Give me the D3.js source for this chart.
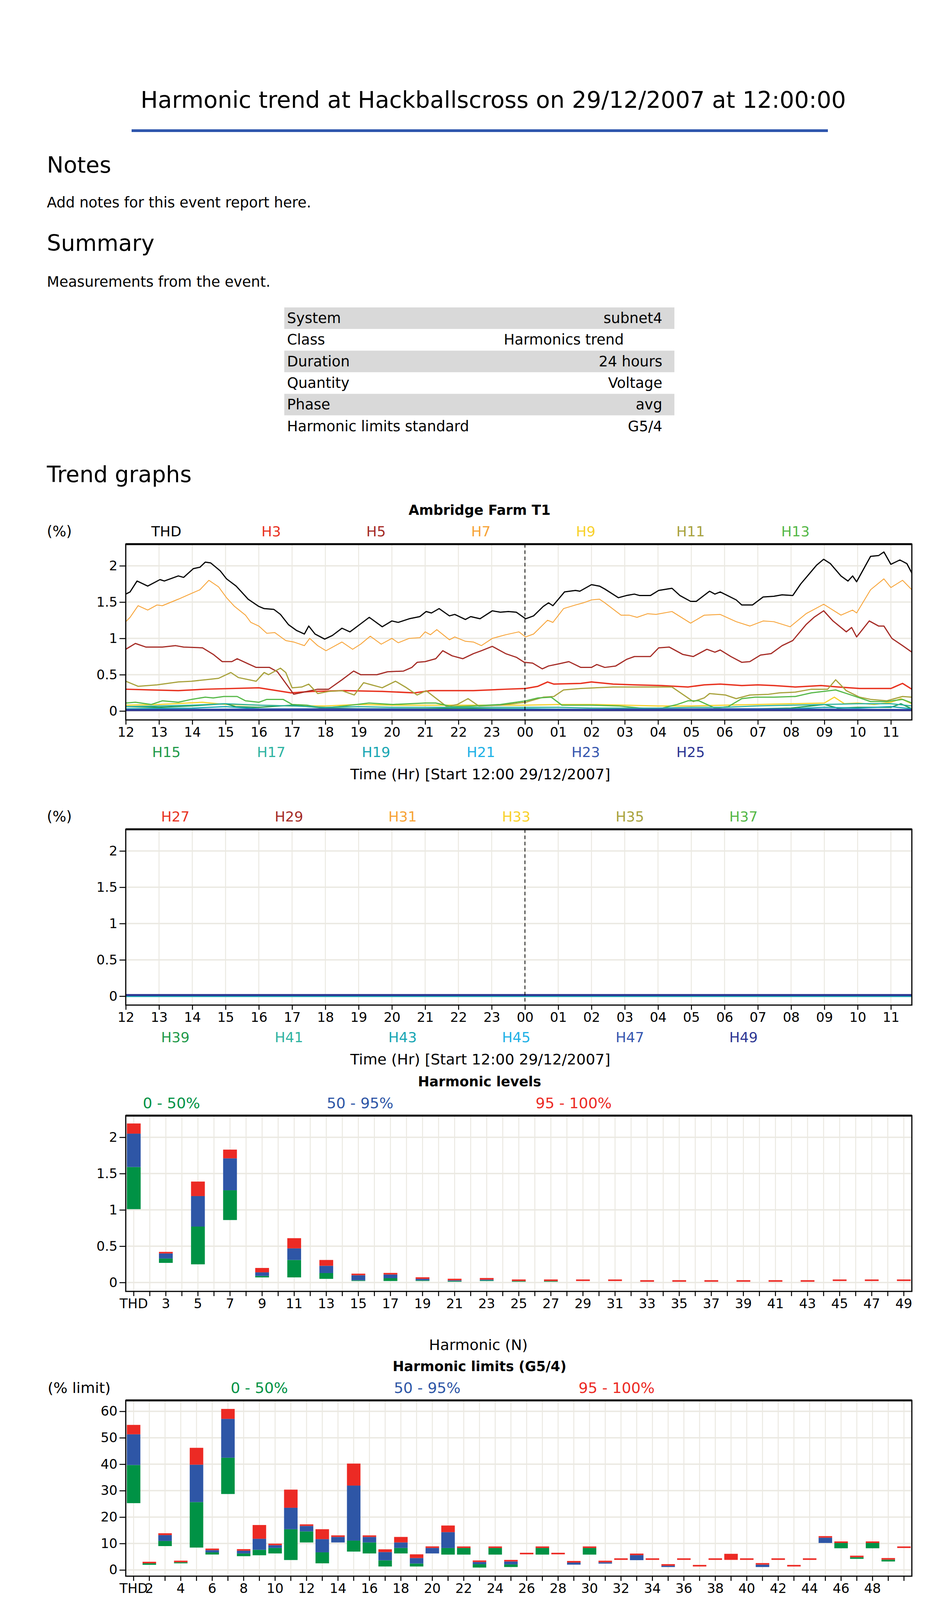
<!DOCTYPE html>
<html>
<head>
<meta charset="utf-8">
<title>Harmonic trend at Hackballscross</title>
<script src="https://cdn.jsdelivr.net/npm/d3@7"></script>
<style>
  body { margin: 0; background: #fff; }
  svg { display: block; font-family: "DejaVu Sans", Verdana, sans-serif; }
</style>
</head>
<body>
<div id="report"></div>
<script>
// ---------- data ----------
var hourLabels = ["12","13","14","15","16","17","18","19","20","21","22","23",
                  "00","01","02","03","04","05","06","07","08","09","10","11"];
var pctTicks = [0, 0.5, 1, 1.5, 2];
var limitTicks = [0, 10, 20, 30, 40, 50, 60];

// trend series: [hours since 12:00, %]
var thdTrend = [[0,1.61],[0.13,1.64],[0.34,1.79],[0.66,1.72],[1.03,1.81],[1.16,1.79],[1.58,1.86],[1.74,1.84],[2.03,1.96],[2.23,1.98],[2.39,2.05],[2.55,2.04],[2.84,1.93],[3.03,1.82],[3.32,1.72],[3.68,1.54],[4.0,1.44],[4.16,1.41],[4.45,1.40],[4.65,1.33],[4.89,1.19],[5.13,1.11],[5.37,1.06],[5.5,1.17],[5.69,1.06],[5.98,0.99],[6.21,1.04],[6.5,1.14],[6.74,1.09],[7.06,1.20],[7.32,1.29],[7.71,1.16],[8.0,1.24],[8.19,1.22],[8.52,1.27],[8.84,1.30],[9.03,1.37],[9.19,1.35],[9.42,1.41],[9.73,1.31],[9.89,1.33],[10.21,1.26],[10.37,1.30],[10.65,1.27],[11.02,1.38],[11.26,1.36],[11.5,1.37],[11.74,1.36],[12.02,1.27],[12.26,1.31],[12.55,1.44],[12.71,1.49],[12.84,1.45],[13.19,1.64],[13.52,1.66],[13.65,1.65],[14.0,1.74],[14.24,1.72],[14.4,1.68],[14.81,1.56],[15.05,1.59],[15.29,1.61],[15.45,1.59],[15.77,1.59],[16.02,1.66],[16.42,1.69],[16.66,1.59],[16.98,1.51],[17.15,1.51],[17.55,1.65],[17.71,1.61],[17.87,1.64],[18.35,1.53],[18.52,1.46],[18.84,1.46],[19.16,1.57],[19.48,1.58],[19.73,1.60],[20.05,1.59],[20.29,1.75],[20.53,1.88],[20.77,2.01],[20.98,2.09],[21.18,2.03],[21.5,1.86],[21.71,1.79],[21.85,1.86],[21.97,1.78],[22.39,2.13],[22.63,2.14],[22.79,2.19],[23.0,2.02],[23.27,2.08],[23.48,2.03],[23.63,1.90]];
var h3Trend = [[0,0.30],[0.77,0.29],[1.58,0.28],[2.39,0.30],[4.0,0.32],[4.97,0.25],[5.61,0.27],[6.58,0.28],[7.71,0.27],[8.68,0.25],[9.16,0.28],[10.45,0.28],[11.42,0.30],[12.02,0.31],[12.39,0.34],[12.68,0.40],[12.87,0.37],[13.68,0.38],[14.0,0.40],[14.65,0.37],[15.29,0.36],[16.1,0.35],[16.9,0.33],[17.39,0.36],[17.87,0.37],[18.52,0.35],[19.0,0.36],[19.48,0.35],[20.13,0.33],[20.9,0.35],[21.42,0.33],[22.06,0.31],[23.0,0.31],[23.35,0.38],[23.63,0.30]];
var h5Trend = [[0,0.85],[0.29,0.93],[0.61,0.88],[1.1,0.88],[1.5,0.90],[1.74,0.88],[2.31,0.87],[2.63,0.78],[2.9,0.68],[3.19,0.68],[3.35,0.72],[3.68,0.65],[3.92,0.60],[4.32,0.60],[4.56,0.54],[5.05,0.23],[5.45,0.27],[5.77,0.30],[6.1,0.30],[6.5,0.43],[6.85,0.55],[7.06,0.50],[7.55,0.50],[7.87,0.54],[8.35,0.55],[8.6,0.60],[8.76,0.67],[9.0,0.68],[9.32,0.72],[9.53,0.83],[9.81,0.76],[10.13,0.72],[10.45,0.79],[10.69,0.83],[11.02,0.89],[11.42,0.79],[11.74,0.74],[11.98,0.67],[12.23,0.66],[12.52,0.58],[12.71,0.62],[13.03,0.65],[13.32,0.68],[13.68,0.60],[14.0,0.60],[14.16,0.64],[14.4,0.60],[14.73,0.62],[15.05,0.71],[15.29,0.75],[15.77,0.75],[16.02,0.87],[16.34,0.88],[16.74,0.78],[17.06,0.75],[17.47,0.85],[17.71,0.81],[17.87,0.84],[18.19,0.75],[18.52,0.67],[18.76,0.68],[19.08,0.77],[19.4,0.79],[19.73,0.90],[20.05,0.97],[20.45,1.19],[20.69,1.29],[20.98,1.38],[21.26,1.24],[21.66,1.09],[21.82,1.15],[21.97,1.02],[22.35,1.24],[22.63,1.17],[22.79,1.17],[23.03,1.00],[23.35,0.90],[23.63,0.81]];
var h7Trend = [[0,1.23],[0.13,1.29],[0.37,1.45],[0.66,1.39],[0.94,1.46],[1.1,1.45],[1.58,1.54],[1.98,1.62],[2.23,1.67],[2.5,1.80],[2.79,1.71],[3.03,1.56],[3.27,1.44],[3.6,1.32],[3.76,1.22],[4.0,1.17],[4.24,1.07],[4.48,1.08],[4.81,0.97],[5.05,0.95],[5.37,0.90],[5.53,1.00],[5.77,0.90],[6.02,0.83],[6.5,0.95],[6.82,0.85],[7.06,0.92],[7.35,1.03],[7.68,0.92],[8.0,1.00],[8.19,0.94],[8.52,1.00],[8.84,1.01],[9.0,1.09],[9.16,1.05],[9.35,1.12],[9.73,0.98],[9.89,1.02],[10.21,0.96],[10.45,0.95],[10.69,0.90],[11.02,1.00],[11.42,1.05],[11.82,1.09],[12.02,1.02],[12.26,1.06],[12.68,1.25],[12.84,1.22],[13.16,1.41],[13.52,1.46],[13.76,1.49],[14.0,1.53],[14.24,1.54],[14.4,1.49],[14.89,1.32],[15.13,1.32],[15.37,1.29],[15.69,1.34],[15.94,1.33],[16.42,1.37],[16.98,1.21],[17.39,1.32],[17.87,1.33],[18.35,1.23],[18.76,1.17],[19.16,1.24],[19.48,1.23],[19.97,1.16],[20.45,1.34],[20.98,1.47],[21.5,1.32],[21.85,1.39],[21.97,1.35],[22.39,1.67],[22.79,1.82],[23.0,1.70],[23.35,1.80],[23.63,1.67]];
var h9Trend = [[0,0.08],[1,0.09],[2.3,0.12],[3,0.09],[4,0.08],[5,0.07],[6,0.07],[7,0.09],[8,0.08],[9,0.08],[10,0.08],[11,0.08],[12,0.08],[13,0.09],[14,0.09],[15,0.08],[16,0.07],[17,0.07],[18,0.08],[19,0.09],[20,0.10],[21,0.11],[21.3,0.19],[21.6,0.10],[22,0.11],[22.5,0.09],[23,0.12],[23.3,0.17],[23.63,0.10]];
var h11Trend = [[0,0.41],[0.37,0.34],[0.94,0.36],[1.26,0.38],[1.58,0.40],[1.98,0.41],[2.39,0.43],[2.79,0.45],[3.16,0.53],[3.39,0.46],[3.92,0.41],[4.16,0.53],[4.29,0.50],[4.65,0.59],[4.81,0.53],[5.0,0.32],[5.29,0.33],[5.5,0.37],[5.77,0.24],[6.1,0.27],[6.5,0.28],[6.87,0.22],[7.15,0.39],[7.39,0.36],[7.71,0.32],[8.11,0.41],[8.44,0.32],[8.76,0.22],[9.03,0.28],[9.65,0.06],[9.97,0.09],[10.29,0.17],[10.61,0.07],[11.26,0.08],[12.02,0.12],[12.55,0.19],[12.87,0.20],[13.16,0.29],[13.68,0.31],[14.65,0.33],[15.29,0.33],[15.94,0.33],[16.42,0.33],[17.06,0.13],[17.39,0.18],[17.55,0.24],[18.03,0.22],[18.35,0.17],[18.76,0.22],[19.32,0.23],[19.65,0.25],[20.13,0.26],[20.61,0.30],[21.1,0.30],[21.34,0.43],[21.66,0.28],[22.06,0.19],[22.39,0.16],[22.87,0.14],[23.35,0.20],[23.63,0.19]];
var h13Trend = [[0,0.11],[0.29,0.12],[0.77,0.09],[1.1,0.14],[1.58,0.12],[1.98,0.16],[2.39,0.19],[2.63,0.18],[2.95,0.20],[3.35,0.20],[3.6,0.14],[4.0,0.12],[4.24,0.16],[4.73,0.16],[5.0,0.09],[5.45,0.08],[5.94,0.04],[6.58,0.07],[7.31,0.11],[8.03,0.09],[9.0,0.11],[9.32,0.11],[9.81,0.06],[10.45,0.07],[11.26,0.09],[12.02,0.14],[12.39,0.18],[12.79,0.19],[13.11,0.08],[14.0,0.08],[14.81,0.07],[15.94,0.02],[16.58,0.09],[16.9,0.14],[17.23,0.14],[17.71,0.04],[18.11,0.06],[18.52,0.17],[18.92,0.19],[19.48,0.19],[20.13,0.20],[20.61,0.25],[21.34,0.29],[21.74,0.23],[22.06,0.18],[22.39,0.13],[22.87,0.13],[23.35,0.16],[23.63,0.11]];
var h15Trend = [[0,0.06],[1,0.05],[2,0.07],[3,0.10],[3.3,0.06],[4,0.05],[5,0.08],[6,0.04],[7,0.03],[8,0.03],[9,0.03],[10,0.04],[11,0.03],[12,0.03],[13,0.02],[14,0.02],[15,0.02],[16,0.02],[17,0.02],[18,0.02],[19,0.03],[20,0.04],[21,0.09],[21.4,0.04],[22,0.05],[23,0.05],[23.3,0.10],[23.63,0.03]];
var h17Trend = [[0,0.06],[1,0.07],[2,0.08],[3,0.10],[4,0.08],[5,0.07],[6,0.05],[7,0.06],[8,0.05],[9,0.05],[10,0.05],[11,0.05],[12,0.05],[13,0.05],[14,0.04],[15,0.04],[16,0.04],[17,0.05],[18,0.05],[19,0.07],[20,0.08],[21,0.09],[22,0.10],[23,0.10],[23.63,0.07]];
var h19Trend = [[0,0.03],[2,0.04],[3,0.06],[4,0.03],[6,0.02],[8,0.03],[10,0.02],[12,0.03],[14,0.02],[16,0.02],[18,0.03],[20,0.03],[21,0.05],[22,0.04],[23,0.06],[23.63,0.03]];
var h21Trend = [[0,0.02],[4,0.02],[8,0.01],[12,0.02],[16,0.01],[20,0.02],[23.63,0.02]];
var h23Trend = [[0,0.02],[6,0.03],[12,0.02],[18,0.03],[23.63,0.02]];
var h25Trend = [[0,0.01],[12,0.01],[23.63,0.01]];
var h27Trend = [[0,0.02],[23.63,0.02]];
var h29Trend = [[0,0.02],[23.63,0.02]];
var h31Trend = [[0,0.02],[23.63,0.02]];
var h33Trend = [[0,0.01],[23.63,0.01]];
var h35Trend = [[0,0.01],[23.63,0.01]];
var h37Trend = [[0,0.01],[23.63,0.01]];
var h39Trend = [[0,0.01],[23.63,0.01]];
var h41Trend = [[0,0.0],[23.63,0.0]];
var h43Trend = [[0,0.0],[23.63,0.0]];
var h45Trend = [[0,0.01],[23.63,0.01]];
var h47Trend = [[0,0.015],[23.63,0.015]];
var h49Trend = [[0,0.015],[23.63,0.015]];

var trend1TopNames = ["THD","H3","H5","H7","H9","H11","H13"];
var trend1BottomNames = ["H15","H17","H19","H21","H23","H25"];
var trend2TopNames = ["H27","H29","H31","H33","H35","H37"];
var trend2BottomNames = ["H39","H41","H43","H45","H47","H49"];

var summaryRows = [["System","subnet4"],["Class","Harmonics trend"],["Duration","24 hours"],
                   ["Quantity","Voltage"],["Phase","avg"],["Harmonic limits standard","G5/4"]];

var measHead = ["N","Min","50%","95%","Max","Min","50%","95%","Max"];
var measRows = [
  ["1","10.972","11.074","11.147","11.197","99.75","100.67","101.34","101.79"],
  ["3","0.030","0.036","0.043","0.046","0.27","0.33","0.40","0.42"],
  ["5","0.028","0.085","0.131","0.152","0.25","0.77","1.19","1.39"],
  ["7","0.095","0.140","0.189","0.201","0.86","1.27","1.71","1.83"],
  ["9","0.007","0.010","0.016","0.022","0.07","0.09","0.14","0.20"],
  ["11","0.008","0.034","0.052","0.067","0.07","0.31","0.47","0.61"],
  ["13","0.005","0.015","0.026","0.034","0.05","0.13","0.23","0.31"],
  ["15","0.002","0.004","0.011","0.013","0.02","0.03","0.10","0.12"],
  ["17","0.002","0.006","0.012","0.014","0.02","0.06","0.11","0.12"],
  ["19","0.002","0.003","0.006","0.008","0.02","0.03","0.05","0.07"],
  ["21","0.001","0.002","0.003","0.004","0.01","0.02","0.03","0.03"],
  ["23","0.002","0.003","0.004","0.005","0.02","0.03","0.04","0.04"],
  ["25","0.001","0.002","0.003","0.003","0.01","0.02","0.02","0.02"],
  ["27","0.001","0.002","0.002","0.002","0.01","0.02","0.02","0.02"],
  ["29","0.002","0.002","0.002","0.002","0.02","0.02","0.02","0.02"],
  ["31","0.002","0.002","0.002","0.002","0.02","0.02","0.02","0.02"],
  ["33","0.001","0.001","0.001","0.001","0.01","0.01","0.01","0.01"],
  ["35","0.001","0.001","0.001","0.001","0.01","0.01","0.01","0.01"],
  ["37","0.001","0.001","0.001","0.001","0.01","0.01","0.01","0.01"],
  ["39","0.001","0.001","0.001","0.001","0.01","0.01","0.01","0.01"],
  ["41","0.001","0.001","0.001","0.001","0.01","0.01","0.01","0.01"],
  ["43","0.001","0.001","0.001","0.001","0.01","0.01","0.01","0.01"],
  ["45","0.002","0.002","0.003","0.003","0.02","0.02","0.02","0.02"],
  ["47","0.002","0.003","0.003","0.003","0.02","0.02","0.02","0.02"],
  ["49","0.002","0.002","0.002","0.002","0.02","0.02","0.02","0.02"],
  ["THD","","","","","1.01","1.59","2.05","2.19"]
];

var limitHead = ["N","Min","50%","95%","Max","Limit%","Min","50%","95%","Max","Pass"];
var limitRows = [
  ["2","0.03","0.04","0.04","0.04","1.50","1.94","2.50","2.50","2.77","Yes"],
  ["3","0.27","0.33","0.40","0.42","3.00","9.02","10.96","13.18","13.87","Yes"],
  ["4","0.02","0.03","0.03","0.03","1.00","2.50","2.91","2.91","3.33","Yes"],
  ["5","0.25","0.77","1.19","1.39","3.00","8.46","25.66","39.81","46.19","Yes"],
  ["6","0.03","0.03","0.04","0.04","0.50","5.83","6.66","7.49","7.49","Yes"],
  ["7","0.86","1.27","1.71","1.83","3.00","28.72","42.45","57.15","60.90","Yes"],
  ["8","0.02","0.02","0.03","0.03","0.40","5.20","6.24","7.28","7.28","Yes"],
  ["9","0.07","0.09","0.14","0.20","1.20","5.55","7.63","11.79","16.99","Yes"],
  ["10","0.02","0.03","0.04","0.04","0.40","6.24","8.32","9.36","9.36","Yes"],
  ["11","0.07","0.31","0.47","0.61","2.00","3.75","15.40","23.51","30.38","Yes"],
  ["12","0.02","0.03","0.03","0.03","0.20","10.40","14.57","16.65","16.65","Yes"],
  ["13","0.05","0.13","0.23","0.31","2.00","2.50","6.66","11.65","15.40","Yes"],
  ["14","0.02","0.02","0.02","0.02","0.20","10.40","10.40","12.48","12.48","Yes"],
  ["15","0.02","0.03","0.10","0.12","0.30","6.94","11.10","31.91","40.23","Yes"],
  ["16","0.01","0.02","0.02","0.02","0.20","6.24","10.40","12.48","12.48","Yes"],
  ["17","0.02","0.06","0.11","0.12","1.60","1.30","3.64","6.76","7.80","Yes"],
  ["18","0.01","0.02","0.02","0.02","0.20","6.24","8.32","10.40","12.48","Yes"],
  ["19","0.02","0.03","0.05","0.07","1.20","1.30","2.43","4.51","5.90","Yes"],
  ["20","0.01","0.01","0.02","0.02","0.20","6.24","6.24","8.32","8.32","Yes"],
  ["THD","1.01","1.59","2.05","2.19","4.00","25.26","39.69","51.31","54.86","Yes"]
];

// % of limit for harmonics not listed in the table
var limitChartExtra = [
  ["21",5.8,8.3,14.3,16.8],["22",5.8,8.3,8.3,8.3],["23",0.9,2.2,3.0,3.3],["24",5.8,8.3,8.3,8.3],
  ["25",1.1,2.1,3.2,3.7],["26",5.9,5.9,5.9,5.9],["27",5.8,8.3,8.3,8.3],["28",5.9,5.9,5.9,5.9],
  ["29",2.0,2.0,2.8,3.2],["30",5.8,8.3,8.3,8.3],["31",2.4,2.4,2.9,3.2],["32",3.8,3.8,3.8,3.8],
  ["33",3.7,3.7,5.6,6.1],["34",3.8,3.8,3.8,3.8],["35",1.1,1.1,1.6,2.0],["36",3.8,3.8,3.8,3.8],
  ["37",1.3,1.3,1.3,1.3],["38",3.8,3.8,3.8,3.8],["39",3.8,3.8,3.8,6.1],["40",3.8,3.8,3.8,3.8],
  ["41",1.1,1.1,2.0,2.4],["42",3.8,3.8,3.8,3.8],["43",1.3,1.3,1.3,1.3],["44",3.8,3.8,3.8,3.8],
  ["45",10.2,10.2,12.2,12.6],["46",8.2,10.2,10.2,10.4],["47",4.2,4.8,4.8,5.2],["48",8.2,10.2,10.2,10.4],
  ["49",3.2,3.9,3.9,4.3],["50",8.3,8.3,8.3,8.3]
];

var levelCats = ["THD","2","3","4","5","6","7","8","9","10","11","12","13","14","15","16","17","18","19","20",
  "21","22","23","24","25","26","27","28","29","30","31","32","33","34","35","36","37","38","39","40",
  "41","42","43","44","45","46","47","48","49"];
var limitCats = levelCats.concat(["50"]);
var levelLabels = ["THD","3","5","7","9","11","13","15","17","19","21","23","25","27","29","31","33","35","37","39","41","43","45","47","49"];
var limitLabels = ["THD","2","4","6","8","10","12","14","16","18","20","22","24","26","28","30","32","34","36","38","40","42","44","46","48"];
var bandNames = ["0 - 50%","50 - 95%","95 - 100%"];

// ---------- styles ----------
var seriesColor = {
  THD:"#000000", H3:"#e8321f", H5:"#a52b25", H7:"#f7a336", H9:"#f8d12a", H11:"#a8a23c",
  H13:"#55b847", H15:"#1f9a4a", H17:"#2fb3a1", H19:"#18a6b3", H21:"#1eb1e6", H23:"#3656ae", H25:"#2c3592",
  H27:"#e8321f", H29:"#a52b25", H31:"#f7a336", H33:"#f8d12a", H35:"#a8a23c", H37:"#55b847",
  H39:"#1f9a4a", H41:"#2fb3a1", H43:"#18a6b3", H45:"#1eb1e6", H47:"#3656ae", H49:"#2c3592"
};
var bandColor = ["#009245", "#2e56a6", "#ec2a24"];
var gridColor = "#ebe9e2";
var plotL = 322, plotR = 2335, plotH = 450;
var hoursSpan = 23.63;

var svg = d3.select("#report").append("svg")
  .attr("width", 2402).attr("height", 7885);
svg.append("rect").attr("width", 2402).attr("height", 7885).attr("fill", "#fff");

function label(x, y, s, size, opt) {
  opt = opt || {};
  return svg.append("text")
    .attr("x", x).attr("y", y)
    .attr("font-size", size)
    .attr("font-weight", opt.bold ? "bold" : null)
    .attr("text-anchor", opt.anchor || "start")
    .attr("fill", opt.color || "#000")
    .text(s);
}

function styleAxis(g, size) {
  g.select(".domain").remove();
  g.attr("font-size", null).attr("font-family", null);
  g.selectAll(".tick line").attr("stroke", "#000").attr("stroke-width", 2.5);
  g.selectAll(".tick text").attr("fill", "#000").attr("font-size", size);
}

function frame(g, top) {
  g.append("rect").attr("x", plotL).attr("y", top)
    .attr("width", plotR - plotL).attr("height", plotH)
    .attr("fill", "none").attr("stroke", "#000").attr("stroke-width", 3);
  g.append("line").attr("x1", plotL).attr("x2", plotR).attr("y1", top).attr("y2", top)
    .attr("stroke", "#000").attr("stroke-width", 5);
}

// ---------- header ----------
label(360, 276, "Harmonic trend at Hackballscross on 29/12/2007 at 12:00:00", 59);
svg.append("rect").attr("x", 337).attr("y", 331).attr("width", 1783).attr("height", 7).attr("fill", "#2f56ad");
label(120, 442, "Notes", 57);
label(120, 531, "Add notes for this event report here.", 37);
label(120, 642, "Summary", 57);
label(120, 734, "Measurements from the event.", 37);

// summary table
var sumTop = 787, sumRowH = 55.3;
svg.append("g").selectAll("rect").data(summaryRows).join("rect")
  .attr("x", 728).attr("y", (d, i) => sumTop + i * sumRowH)
  .attr("width", 999).attr("height", sumRowH)
  .attr("fill", (d, i) => i % 2 === 0 ? "#d9d9d9" : "#fff");
svg.append("g").selectAll("text").data(summaryRows).join("text")
  .attr("x", 735).attr("y", (d, i) => sumTop + i * sumRowH + 40)
  .attr("font-size", 37).text(d => d[0]);
svg.append("g").selectAll("text").data(summaryRows).join("text")
  .attr("x", (d, i) => i === 1 ? 1290 : 1696)
  .attr("text-anchor", (d, i) => i === 1 ? "start" : "end")
  .attr("y", (d, i) => sumTop + i * sumRowH + 40)
  .attr("font-size", 37).text(d => d[1]);

label(120, 1234, "Trend graphs", 57);

// ---------- trend charts ----------
function trendChart(top, series, topNames, bottomNames, legX0, legStep, title) {
  var bottom = top + plotH;
  var x = d3.scaleLinear().domain([0, hoursSpan]).range([plotL, plotR]);
  var y = d3.scaleLinear().domain([-0.123, 2.298]).range([bottom, top]);
  var g = svg.append("g");

  if (title) g.append("text").attr("x", 1228).attr("y", top - 75).attr("text-anchor", "middle")
    .attr("font-size", 35).attr("font-weight", "bold").text(title);
  g.append("text").attr("x", 120).attr("y", top - 20).attr("font-size", 37).text("(%)");

  g.append("g").selectAll("text").data(topNames).join("text")
    .attr("x", (d, i) => legX0 + i * legStep).attr("y", top - 20)
    .attr("text-anchor", "middle").attr("font-size", 36)
    .attr("fill", d => seriesColor[d]).text(d => d);
  g.append("g").selectAll("text").data(bottomNames).join("text")
    .attr("x", (d, i) => legX0 + i * legStep).attr("y", bottom + 95)
    .attr("text-anchor", "middle").attr("font-size", 36)
    .attr("fill", d => seriesColor[d]).text(d => d);
  g.append("text").attr("x", 1230).attr("y", bottom + 152).attr("text-anchor", "middle")
    .attr("font-size", 38).text("Time (Hr) [Start 12:00 29/12/2007]");

  // grid
  g.append("g").selectAll("line").data(d3.range(1, hourLabels.length)).join("line")
    .attr("x1", d => x(d)).attr("x2", d => x(d)).attr("y1", top).attr("y2", bottom)
    .attr("stroke", gridColor).attr("stroke-width", 2.5);
  g.append("g").selectAll("line").data(pctTicks).join("line")
    .attr("x1", plotL).attr("x2", plotR).attr("y1", d => y(d)).attr("y2", d => y(d))
    .attr("stroke", gridColor).attr("stroke-width", 3.5);

  var line = d3.line().x(d => x(d[0])).y(d => y(d[1]));
  g.append("g").selectAll("path").data(series).join("path")
    .attr("d", d => line(d.values))
    .attr("fill", "none")
    .attr("stroke", d => seriesColor[d.name])
    .attr("stroke-width", d => d.width)
    .attr("stroke-linejoin", "round");

  // midnight marker
  g.append("line").attr("x1", x(12)).attr("x2", x(12)).attr("y1", top).attr("y2", bottom)
    .attr("stroke", "#000").attr("stroke-width", 2).attr("stroke-dasharray", "9,7");

  frame(g, top);

  var gx = g.append("g").attr("transform", "translate(0," + bottom + ")")
    .call(d3.axisBottom(x).tickValues(d3.range(hourLabels.length))
      .tickFormat(i => hourLabels[i]).tickSize(12));
  styleAxis(gx, 34);
  gx.selectAll(".tick text").attr("y", 43).attr("dy", 0);

  var gy = g.append("g").attr("transform", "translate(" + plotL + ",0)")
    .call(d3.axisLeft(y).tickValues(pctTicks).tickFormat(d3.format("")).tickSize(16).tickPadding(5));
  styleAxis(gy, 34);
}

trendChart(1393, [
  {name:"THD", values:thdTrend, width:3},
  {name:"H3", values:h3Trend, width:3.5},
  {name:"H5", values:h5Trend, width:3},
  {name:"H7", values:h7Trend, width:2.2},
  {name:"H9", values:h9Trend, width:3},
  {name:"H11", values:h11Trend, width:3},
  {name:"H13", values:h13Trend, width:3},
  {name:"H15", values:h15Trend, width:3},
  {name:"H17", values:h17Trend, width:3},
  {name:"H19", values:h19Trend, width:3},
  {name:"H21", values:h21Trend, width:3},
  {name:"H23", values:h23Trend, width:3},
  {name:"H25", values:h25Trend, width:4.5}
], trend1TopNames, trend1BottomNames, 426, 268.5, "Ambridge Farm T1");

trendChart(2123, [
  {name:"H27", values:h27Trend, width:3},
  {name:"H29", values:h29Trend, width:3},
  {name:"H31", values:h31Trend, width:3},
  {name:"H33", values:h33Trend, width:3},
  {name:"H35", values:h35Trend, width:3},
  {name:"H37", values:h37Trend, width:3},
  {name:"H39", values:h39Trend, width:3},
  {name:"H41", values:h41Trend, width:4},
  {name:"H43", values:h43Trend, width:4},
  {name:"H45", values:h45Trend, width:3},
  {name:"H47", values:h47Trend, width:4},
  {name:"H49", values:h49Trend, width:5}
], trend2TopNames, trend2BottomNames, 449, 291, null);

// ---------- range bar charts ----------
function rangeChart(top, cats, labels, yDomain, ticks, data, title, legendX, xTitle, leftLabel) {
  var bottom = top + plotH;
  var x = d3.scaleBand().domain(cats).range([plotL, plotR]);
  var y = d3.scaleLinear().domain(yDomain).range([bottom, top]);
  var g = svg.append("g");

  g.append("text").attr("x", 1228).attr("y", top - 75).attr("text-anchor", "middle")
    .attr("font-size", 35).attr("font-weight", "bold").text(title);
  if (leftLabel) g.append("text").attr("x", 122).attr("y", top - 19).attr("font-size", 38).text(leftLabel);
  g.append("g").selectAll("text").data(bandNames).join("text")
    .attr("x", (d, i) => legendX[i]).attr("y", top - 19).attr("text-anchor", "middle")
    .attr("font-size", 38).attr("fill", (d, i) => bandColor[i]).text(d => d);
  g.append("text").attr("x", 1225).attr("y", bottom + 150).attr("text-anchor", "middle")
    .attr("font-size", 38).text(xTitle);

  var cx = d => x(d) + x.bandwidth() / 2;
  g.append("g").selectAll("line").data(cats).join("line")
    .attr("x1", cx).attr("x2", cx).attr("y1", top).attr("y2", bottom)
    .attr("stroke", gridColor).attr("stroke-width", 2.5);
  g.append("g").selectAll("line").data(ticks).join("line")
    .attr("x1", plotL).attr("x2", plotR).attr("y1", d => y(d)).attr("y2", d => y(d))
    .attr("stroke", gridColor).attr("stroke-width", 3.5);

  var bw = x.bandwidth() * 0.86;
  var segs = [];
  data.forEach(d => {
    for (var s = 0; s < 3; s++) segs.push({k: d.k, lo: d.v[s], hi: d.v[s + 1], s: s});
  });
  g.append("g").selectAll("rect").data(segs).join("rect")
    .attr("x", d => cx(d.k) - bw / 2).attr("width", bw)
    .attr("y", d => d.s === 2 ? Math.min(y(d.hi), y(d.lo) - 4) : y(d.hi))
    .attr("height", d => d.s === 2 ? Math.max(y(d.lo) - y(d.hi), 4) : Math.max(y(d.lo) - y(d.hi), 0))
    .attr("fill", d => bandColor[d.s]);

  frame(g, top);

  var gx = g.append("g").attr("transform", "translate(0," + bottom + ")")
    .call(d3.axisBottom(x).tickFormat(d => labels.indexOf(d) >= 0 ? d : "").tickSize(12));
  styleAxis(gx, 34);
  gx.selectAll(".tick text").attr("y", 43).attr("dy", 0);

  var gy = g.append("g").attr("transform", "translate(" + plotL + ",0)")
    .call(d3.axisLeft(y).tickValues(ticks).tickFormat(d3.format("")).tickSize(16).tickPadding(5));
  styleAxis(gy, 34);
}

var levelData = measRows.filter(r => r[0] !== "1")
  .map(r => ({k: r[0], v: r.slice(5, 9).map(Number)}));
levelData = [levelData[levelData.length - 1]].concat(levelData.slice(0, -1));
rangeChart(2856, levelCats, levelLabels, [-0.123, 2.298], pctTicks, levelData,
  "Harmonic levels", [439, 922, 1469], "Harmonic (N)", null);

var limitData = limitRows.map(r => ({k: r[0], v: r.slice(6, 10).map(Number)}))
  .concat(limitChartExtra.map(r => ({k: r[0], v: r.slice(1)})));
rangeChart(3585, limitCats, limitLabels, [-2.36, 64.13], limitTicks, limitData,
  "Harmonic limits (G5/4)", [664, 1094, 1579], "Harmonic(N)", "(% limit)");

svg.append("rect").attr("x", 337).attr("y", 4220).attr("width", 1783).attr("height", 4).attr("fill", "#2f56ad");

// ---------- tables ----------
function dataTable(rowTop, rowH, colX, headX, head, groups, rows, head1Y, head2Y) {
  var g = svg.append("g");
  g.append("g").selectAll("rect").data(rows).join("rect")
    .attr("x", 563).attr("y", (d, i) => rowTop + i * rowH - rowH / 2)
    .attr("width", 1347).attr("height", rowH)
    .attr("fill", (d, i) => i % 2 === 0 ? "#d9d9d9" : "none");
  g.append("g").selectAll("text").data(groups).join("text")
    .attr("x", d => d[1]).attr("y", head1Y).attr("text-anchor", "middle")
    .attr("font-size", 36).attr("font-weight", "bold").text(d => d[0]);
  g.append("g").selectAll("text").data(head).join("text")
    .attr("x", (d, i) => headX[i]).attr("y", head2Y).attr("text-anchor", "middle")
    .attr("font-size", 36).attr("font-weight", "bold").text(d => d);
  rows.forEach((r, i) => {
    g.append("g").selectAll("text").data(r).join("text")
      .attr("x", (d, j) => colX[j]).attr("y", rowTop + i * rowH + 12.6)
      .attr("font-size", 35).text(d => d);
  });
}

label(120, 4373, "Measurement Summary", 57);
label(120, 4464, "Harmonic levels during the trend interval.", 37);
dataTable(4655, 55.35,
  [570, 692, 841, 989, 1138, 1315, 1444, 1596, 1747],
  [612, 759, 906, 1055, 1207, 1372, 1512, 1664, 1814],
  measHead, [["Harmonics (kV)", 982], ["%", 1600]], measRows, 4558, 4613);

label(120, 6260, "Measurement Limits Summary (G5/4)", 57);
label(120, 6352, "Harmonic limits during the trend interval.", 37);
dataTable(6545, 55.3,
  [570, 688, 784, 900, 1016, 1119, 1289, 1409, 1531, 1655, 1777],
  [609, 730, 833, 949, 1060, 1194, 1342, 1462, 1585, 1710, 1833],
  limitHead, [["%", 896], ["% limit", 1527]], limitRows, 6448, 6503);
</script>
</body>
</html>
